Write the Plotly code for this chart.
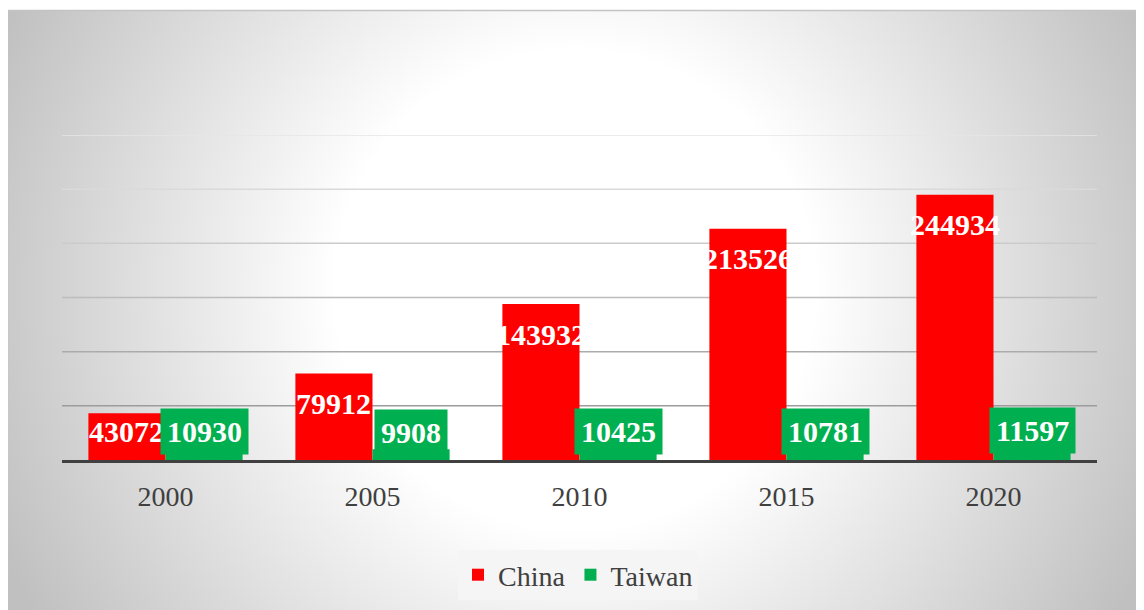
import base64
import plotly.graph_objects as go

# ---- data ----
years = ["2000", "2005", "2010", "2015", "2020"]
china = [43072, 79912, 143932, 213526, 244934]
taiwan = [10930, 9908, 10425, 10781, 11597]
grid_values = [50000, 100000, 150000, 200000, 250000, 300000]
grid_colors = ["#9c9c9c", "#ababab", "#bcbcbc", "#cbcbcb", "#dadada", "#e6e6e6"]

W, H = 1144, 610
OFF = 8  # page offset of the figure in the browser
PX0, PX1 = 62 - OFF, 1097 - OFF   # plot area x (px, figure coords)
PY0, PY1 = 135 - OFF, 460 - OFF   # plot area y top / bottom
YMAX = 300000
BARGAP = 0.255
px_per_unit = (PY1 - PY0) / YMAX

FONT = "Liberation Serif, Times New Roman, serif"
RED = "#FF0000"
GREEN = "#00B050"

# ---- background (radial gradient via SVG) ----
cx, cy = 575 - OFF, 290 - OFF
svg = f'''<svg xmlns="http://www.w3.org/2000/svg" width="{W}" height="{H}" viewBox="0 0 {W} {H}">
<defs><radialGradient id="g" gradientUnits="userSpaceOnUse" cx="{cx}" cy="{cy}" r="630">
<stop offset="0" stop-color="#ffffff"/><stop offset="0.38" stop-color="#ffffff"/>
<stop offset="1" stop-color="#c0c0c0"/></radialGradient></defs>
<rect x="0" y="0" width="{W}" height="{H}" fill="#ffffff"/>
<rect x="{7.5 - OFF}" y="{10.5 - OFF}" width="{W}" height="{H}" fill="url(#g)" stroke="#c4c4c4" stroke-width="1.5"/>
</svg>'''
svg_uri = "data:image/svg+xml;base64," + base64.b64encode(svg.encode()).decode()

xs = list(range(len(years)))
fig = go.Figure()
fig.add_trace(go.Bar(name="China", x=xs, y=china, marker=dict(color=RED, line=dict(width=0))))
fig.add_trace(go.Bar(name="Taiwan", x=xs, y=taiwan, marker=dict(color=GREEN, line=dict(width=0))))

half = (1 - BARGAP) / 4  # half of a single bar width (x units)
label_level = 431 - OFF
annotations = []
for i, v in enumerate(china):
    top_px = PY1 - v * px_per_unit
    shift = min(30, label_level - top_px)
    annotations.append(dict(x=i - half, y=v, xref="x", yref="y", text=f"<b>{v}</b>",
                            showarrow=False, yanchor="middle", yshift=-shift,
                            font=dict(family=FONT, size=30, color="white")))
for i, v in enumerate(taiwan):
    annotations.append(dict(x=i + half, y=v, xref="x", yref="y", text=f"<b>{v}</b>",
                            showarrow=False, yanchor="middle", yshift=17,
                            bgcolor=GREEN, borderpad=6,
                            font=dict(family=FONT, size=30, color="white")))

shapes = []
for gv, gc in zip(grid_values, grid_colors):
    shapes.append(dict(type="line", xref="paper", yref="y",
                       x0=PX0 / W, x1=PX1 / W, y0=gv, y1=gv,
                       line=dict(color=gc, width=1.5), layer="below"))

fig.update_layout(
    width=W, height=H,
    margin=dict(l=0, r=0, t=0, b=0, pad=0),
    paper_bgcolor="white", plot_bgcolor="rgba(0,0,0,0)",
    barmode="group", bargap=BARGAP, bargroupgap=0,
    images=[dict(source=svg_uri, xref="paper", yref="paper", x=0, y=1,
                 sizex=1, sizey=1, sizing="stretch", xanchor="left", yanchor="top",
                 layer="below")],
    xaxis=dict(domain=[PX0 / W, PX1 / W], range=[-0.5, len(years) - 0.5],
               tickvals=xs, ticktext=years, showgrid=False, zeroline=False,
               showline=True, linecolor="#404040", linewidth=3,
               ticks="", ticklabelstandoff=9,
               tickfont=dict(family=FONT, size=28, color="#404040")),
    yaxis=dict(domain=[1 - PY1 / H, 1 - PY0 / H], range=[0, YMAX],
               showgrid=False, zeroline=False, showticklabels=False, showline=False),
    legend=dict(orientation="h", x=(578 - OFF) / W, xanchor="center",
                y=1 - (575 - OFF) / H, yanchor="middle",
                bgcolor="#f5f5f5", font=dict(family=FONT, size=28, color="#404040"),
                itemwidth=30, traceorder="normal", borderwidth=0,
                ),
    annotations=annotations,
    shapes=shapes,
    showlegend=True,
)

fig.write_html("out.html")
